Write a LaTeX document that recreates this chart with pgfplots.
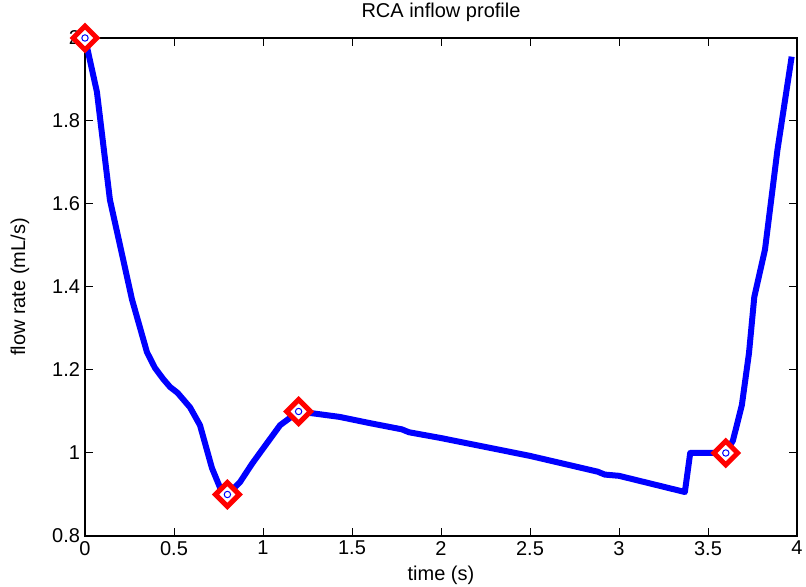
\documentclass[border=0pt]{standalone}
\usepackage{pgfplots}
\pgfplotsset{compat=1.18}
\usepackage{fontspec}
\setmainfont{Liberation Sans}

\begin{document}
\begin{tikzpicture}
\useasboundingbox (-42.5pt,-25.5pt) rectangle (360.5pt,268pt);
\begin{axis}[
  at={(0,0)}, anchor=south west,
  scale only axis,
  width=356pt, height=249pt,
  xmin=0, xmax=4, ymin=0.8, ymax=2,
  xtick={0,0.5,...,4}, ytick={0.8,1,...,2},
  yticklabels={0.8,1,1.2,1.4,1.6,1.8,2},
  xticklabels={0,0.5,1,1.5,2,2.5,3,3.5,4},
  tick align=inside, major tick length=4pt,
  tick style={black, line width=0.5pt},
  axis line style={black, line width=0.6pt},
  font=\fontsize{10}{12}\selectfont,
  tick label style={font=\fontsize{10}{12}\selectfont},
  xticklabel style={yshift=1pt},
  yticklabel style={xshift=1pt},
  /pgf/number format/assume math mode=true,
  xlabel={time (s)},
  ylabel={flow rate (mL/s)},
  xlabel style={at={(axis description cs:0.5,-0.078)}, anchor=center},
  ylabel style={at={(axis description cs:-0.0913,0.5)}, anchor=center},
  clip=false,
]
% inflow waveform
\addplot[blue, line width=3pt, line join=round] coordinates {
  (0,2) (0.067,1.87) (0.14,1.61) (0.197,1.50) (0.264,1.37) (0.348,1.243)
  (0.393,1.205) (0.44,1.178) (0.478,1.159) (0.52,1.145) (0.59,1.11)
  (0.646,1.067) (0.713,0.964) (0.76,0.915) (0.8,0.9) (0.871,0.93)
  (0.94,0.975) (0.994,1.007) (1.096,1.067) (1.2,1.1) (1.29,1.095)
  (1.43,1.087) (1.6,1.072) (1.78,1.057) (1.82,1.050) (2.0,1.036)
  (2.5,0.993) (2.88,0.955) (2.92,0.948) (3.0,0.945) (3.37,0.906)
  (3.40,1.0) (3.6,1.0) (3.64,1.03) (3.69,1.115) (3.73,1.24) (3.76,1.376)
  (3.82,1.49) (3.89,1.73) (3.97,1.955)
};
% control points
\addplot[only marks, mark=square*, mark size=4.2pt,
  mark options={draw=red, fill=white, line width=2.5pt, rotate=45}] coordinates {
  (0,2) (0.8,0.9) (1.2,1.1) (3.6,1.0)
};
\addplot[only marks, mark=o, mark size=1.6pt,
  mark options={draw=blue, line width=0.5pt}] coordinates {
  (0,2) (0.8,0.9) (1.2,1.1) (3.6,1.0)
};
% plot title
\node[anchor=center] at (rel axis cs:0.5,1.052) {RCA inflow profile};
\end{axis}
\end{tikzpicture}
\end{document}
